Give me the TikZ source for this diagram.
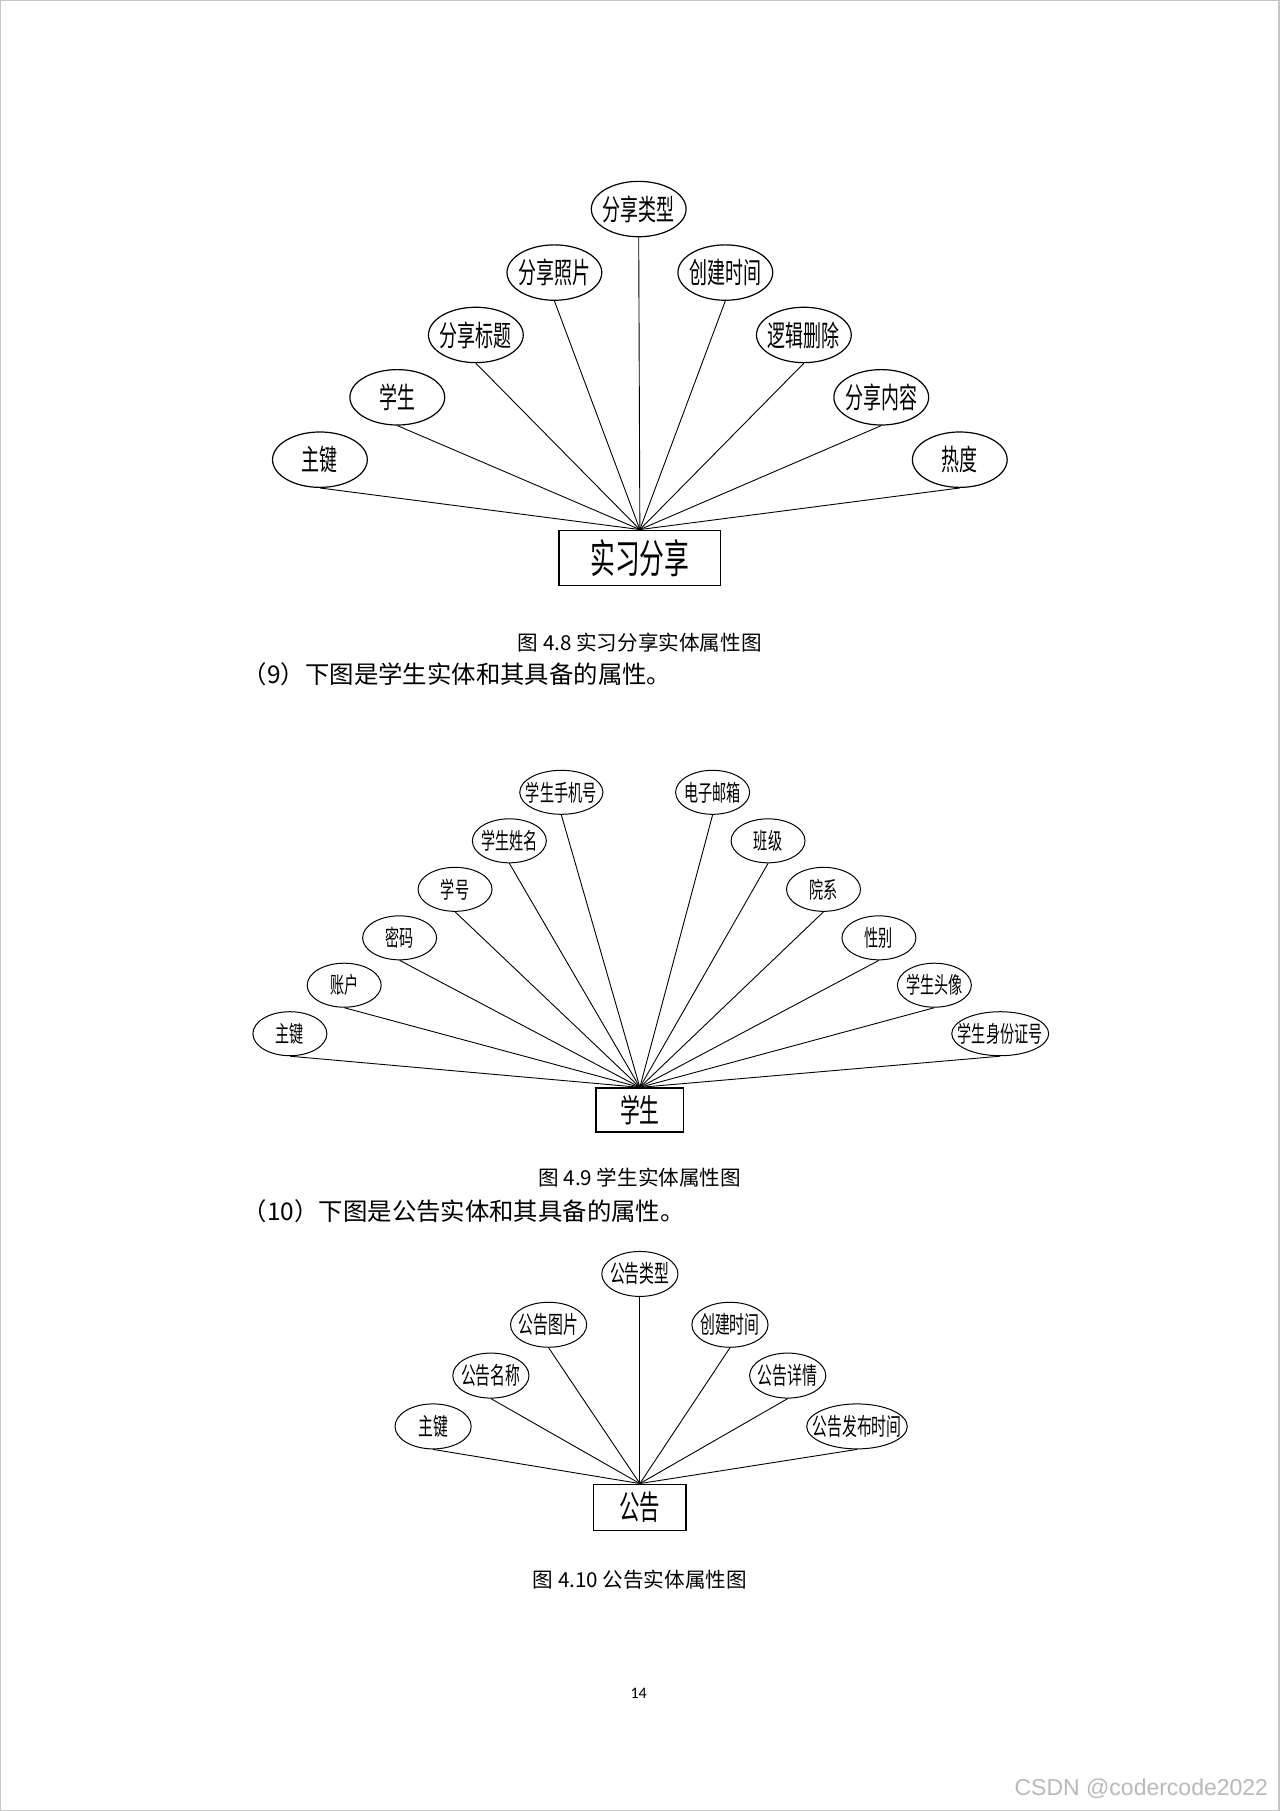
\documentclass[tikz,border=0pt]{standalone}
\usepackage{fontspec}
\usetikzlibrary{shapes.geometric}
\newfontfamily\cjk{Noto Sans CJK SC}
\newfontfamily\cjkn[FakeStretch=0.62]{Noto Sans CJK SC}
\newfontfamily\latn{Liberation Sans}
\newfontfamily\pgfont{Carlito}
\tikzset{
  attrbase/.style={ellipse, draw, inner xsep=-8pt, inner ysep=0pt},
  attrA/.style={attrbase, line width=0.6pt, minimum width=47.4pt, minimum height=27.7pt, font=\cjkn\fontsize{14.5}{15}\selectfont},
  attrB/.style={attrbase, line width=0.5pt, minimum width=37pt, minimum height=22pt, font=\cjkn\fontsize{11.4}{12}\selectfont},
  attrC/.style={attrbase, line width=0.5pt, minimum width=38.1pt, minimum height=22.5pt, font=\cjkn\fontsize{12}{13}\selectfont},
  ent/.style={rectangle, draw, line width=0.6pt, inner sep=0pt},
  link/.style={line width=0.45pt},
  caption/.style={font=\cjk\fontsize{10.3}{11}\selectfont},
  para/.style={font=\cjk\fontsize{12.2}{13}\selectfont, anchor=west, inner sep=0pt}
}
\begin{document}
\begin{tikzpicture}[x=0.5776pt, y=-0.5776pt]
\useasboundingbox (0,0) rectangle (1108,1568);
\fill[white] (0,0) rectangle (1108,1568);
\draw[gray!45, line width=0.6pt] (0.6,0.6) rectangle (1107.4,1567.4);

% ---------- Figure 4.8 ----------
\node[ent, minimum width=80.9pt, minimum height=27.7pt, font=\cjkn\fontsize{20}{21}\selectfont] (e1) at (554,483) {实习分享};
\node[attrA] (a1) at (277,398) {主键};
\node[attrA] (a2) at (344,344) {学生};
\node[attrA] (a3) at (412,290) {分享标题};
\node[attrA] (a4) at (480,236) {分享照片};
\node[attrA] (a5) at (553,181) {分享类型};
\node[attrA] (a6) at (628,236) {创建时间};
\node[attrA] (a7) at (696,290) {逻辑删除};
\node[attrA] (a8) at (763,344) {分享内容};
\node[attrA] (a9) at (831,398) {热度};
\foreach \i in {1,...,9} \draw[link] (a\i.south) -- (e1.north);
\node[caption] (c1) at (554,556) {图 4.8 实习分享实体属性图};
\node[para] (p1) at (210,584) {（9）下图是学生实体和其具备的属性。};

% ---------- Figure 4.9 ----------
\node[ent, minimum width=43.9pt, minimum height=22pt, font=\cjkn\fontsize{16}{17}\selectfont] (e2) at (554,961) {学生};
\node[attrB] (b1) at (251,895) {主键};
\node[attrB] (b2) at (298,853) {账户};
\node[attrB] (b3) at (346,812) {密码};
\node[attrB] (b4) at (394,770) {学号};
\node[attrB] (b5) at (441,728) {学生姓名};
\node[attrB, minimum width=41.6pt] (b6) at (486,686) {学生手机号};
\node[attrB] (b7) at (617,686) {电子邮箱};
\node[attrB] (b8) at (665,728) {班级};
\node[attrB] (b9) at (713,770) {院系};
\node[attrB] (b10) at (761,812) {性别};
\node[attrB] (b11) at (809,853) {学生头像};
\node[attrB, minimum width=48.5pt] (b12) at (866,895) {学生身份证号};
\foreach \i in {1,...,12} \draw[link] (b\i.south) -- (e2.north);
\node[caption] (c2) at (554,1020) {图 4.9 学生实体属性图};
\node[para] (p2) at (210,1049) {（10）下图是公告实体和其具备的属性。};

% ---------- Figure 4.10 ----------
\node[ent, minimum width=46.2pt, minimum height=23.1pt, font=\cjkn\fontsize{16.5}{17}\selectfont] (e3) at (554,1305) {公告};
\node[attrC] (d1) at (375,1235) {主键};
\node[attrC] (d2) at (425,1191) {公告名称};
\node[attrC] (d3) at (475,1147) {公告图片};
\node[attrC] (d4) at (554,1103) {公告类型};
\node[attrC] (d5) at (632,1147) {创建时间};
\node[attrC] (d6) at (682,1191) {公告详情};
\node[attrC, minimum width=50.3pt] (d7) at (742,1235) {公告发布时间};
\foreach \i in {1,...,7} \draw[link] (d\i.south) -- (e3.north);
\node[caption] (c3) at (554,1368) {图 4.10 公告实体属性图};

% ---------- page number and watermark ----------
\node[font=\pgfont\fontsize{8}{9}\selectfont] (pn) at (553,1466) {14};
\node[font=\latn\fontsize{11.5}{12}\selectfont, text=gray!55, anchor=east] (wm) at (1104,1549) {CSDN @codercode2022};
\end{tikzpicture}
\end{document}
